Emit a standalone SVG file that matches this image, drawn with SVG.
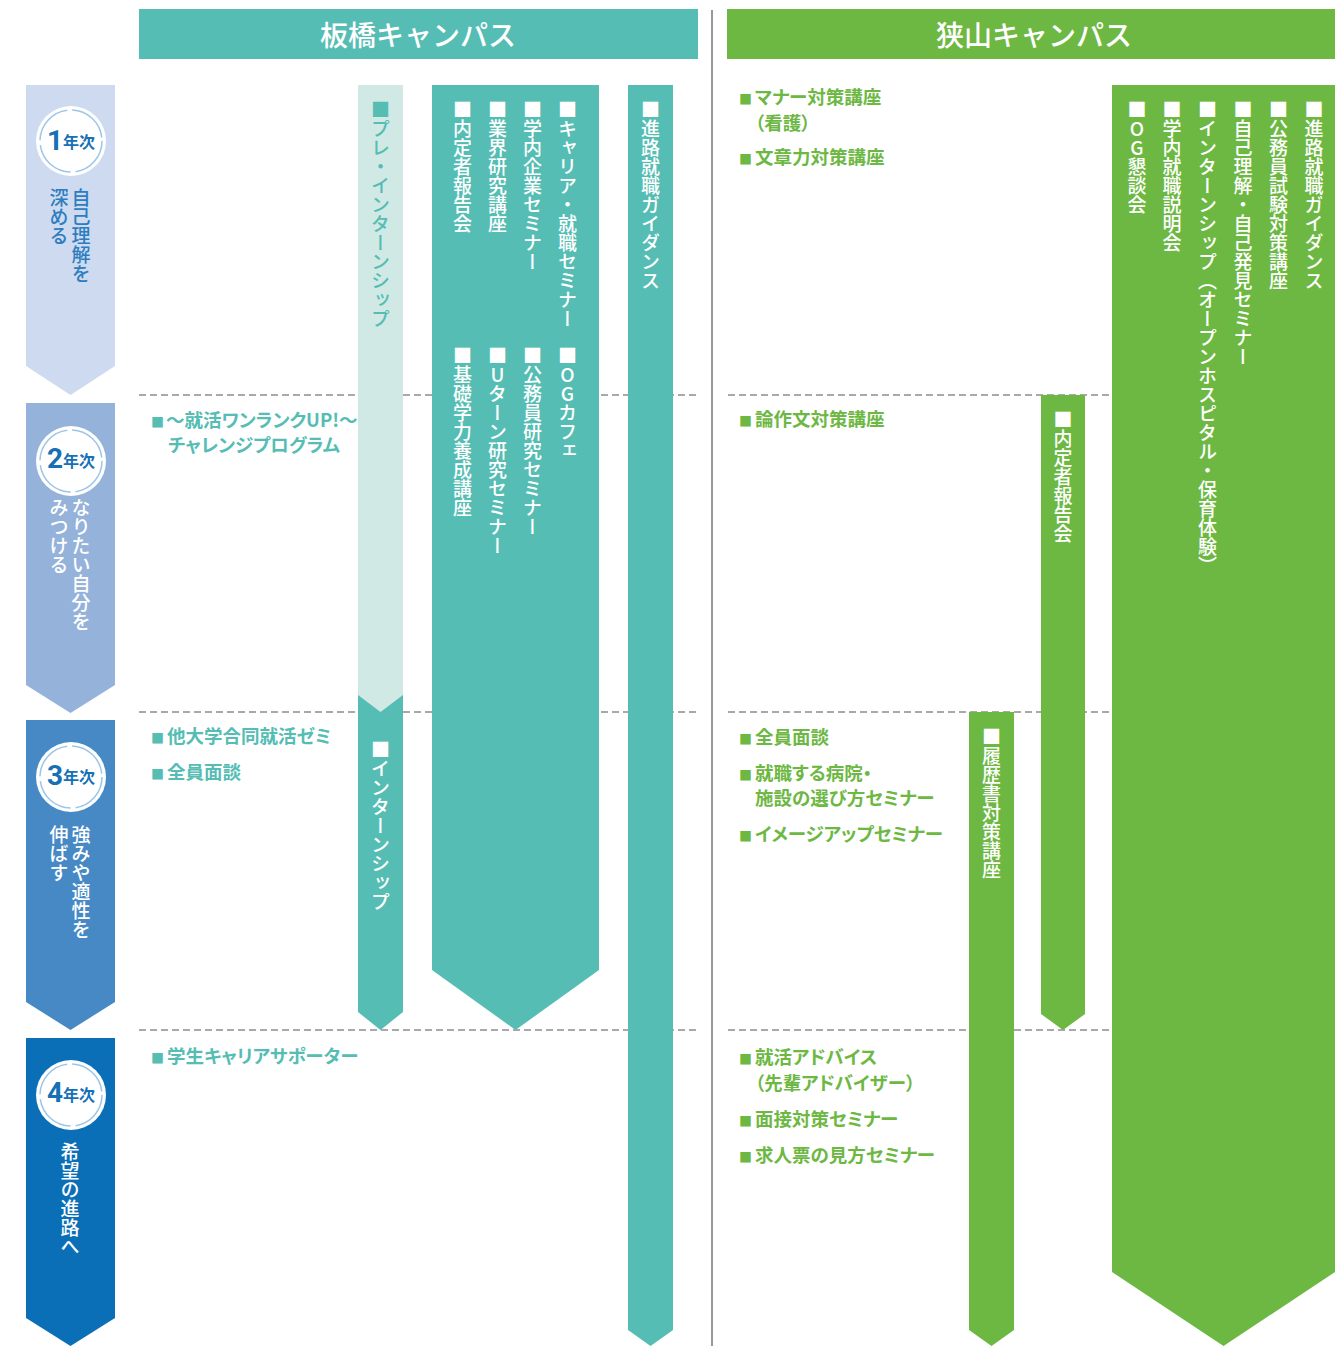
<svg xmlns="http://www.w3.org/2000/svg" width="1335" height="1346" viewBox="0 0 1335 1346">
<style>
text{font-family:"Noto Sans CJK JP","Noto Sans",sans-serif}
.hd{font-size:28px;fill:#fff;font-weight:500;text-anchor:middle}
.v{writing-mode:vertical-rl;text-orientation:upright;font-size:19px;font-weight:500;fill:#fff}
.vy{writing-mode:vertical-rl;text-orientation:upright;font-size:19px;font-weight:500}
.lt{font-size:18.5px;font-weight:700;fill:#55bdb3;font-feature-settings:"palt"}
.lg{font-size:18.5px;font-weight:700;fill:#6db843;font-feature-settings:"palt"}
.sq{font-size:13px}
.num{font-family:"Roboto","Liberation Sans",sans-serif;font-size:28px;font-weight:700;fill:#1670b6}
.nen{font-size:16px;font-weight:700;fill:#1670b6}
.dash{stroke:#555;stroke-width:1.2;stroke-dasharray:7 4;fill:none}
.teal{fill:#55bdb3}
.green{fill:#6db843}
.ring{fill:#fff}
.ring2{fill:none;stroke:#9cc6e8;stroke-width:1.5;stroke-dasharray:44 5}
</style>

<g id="header-itabashi">
<rect x="139" y="9" width="559" height="50" class="teal"/>
<text x="418" y="46" class="hd">板橋キャンパス</text>
</g>
<g id="header-sayama">
<rect x="727" y="9" width="608" height="50" class="green"/>
<text x="1034" y="46" class="hd">狭山キャンパス</text>
</g>

<g id="connectors">
<line x1="712" y1="10" x2="712" y2="1346" stroke="#333" stroke-width="1"/>
<line x1="139" y1="395" x2="698" y2="395" class="dash"/>
<line x1="728" y1="395" x2="1112" y2="395" class="dash"/>
<line x1="139" y1="712" x2="698" y2="712" class="dash"/>
<line x1="728" y1="712" x2="1112" y2="712" class="dash"/>
<line x1="139" y1="1030" x2="698" y2="1030" class="dash"/>
<line x1="728" y1="1030" x2="1112" y2="1030" class="dash"/>
</g>

<g id="year1">
<polygon points="26,85 115,85 115,366 70.5,395 26,366" fill="#cedaef"/>
<circle cx="71" cy="141" r="35" class="ring"/>
<circle cx="71" cy="141" r="31" class="ring2"/>
<text x="47" y="150" class="num">1</text>
<text x="63" y="148" class="nen">年次</text>
<text x="81" y="188" class="vy" fill="#2d7dc0">自己理解を</text>
<text x="59" y="188" class="vy" fill="#2d7dc0">深める</text>
</g>
<g id="year2">
<polygon points="26,403 115,403 115,685 70.5,713 26,685" fill="#95b2da"/>
<circle cx="71" cy="461" r="35" class="ring"/>
<circle cx="71" cy="461" r="31" class="ring2"/>
<text x="47" y="468" class="num">2</text>
<text x="63" y="467" class="nen">年次</text>
<text x="81" y="498" class="vy" fill="#fff">なりたい自分を</text>
<text x="59" y="498" class="vy" fill="#fff">みつける</text>
</g>
<g id="year3">
<polygon points="26,720 115,720 115,1002 70.5,1030 26,1002" fill="#4689c5"/>
<circle cx="71" cy="777" r="35" class="ring"/>
<circle cx="71" cy="777" r="31" class="ring2"/>
<text x="47" y="785" class="num">3</text>
<text x="63" y="783" class="nen">年次</text>
<text x="81" y="825" class="vy" fill="#fff">強みや適性を</text>
<text x="59" y="825" class="vy" fill="#fff">伸ばす</text>
</g>
<g id="year4">
<polygon points="26,1038 115,1038 115,1318 70.5,1346 26,1318" fill="#0b6fb8"/>
<circle cx="71" cy="1095" r="35" class="ring"/>
<circle cx="71" cy="1095" r="31" class="ring2"/>
<text x="47" y="1102" class="num">4</text>
<text x="63" y="1101" class="nen">年次</text>
<text x="70" y="1142" class="vy" fill="#fff">希望の進路へ</text>
</g>

<g id="itabashi-internship">
<polygon points="358,650 403,650 403,1012 380.5,1030 358,1012" class="teal"/>
<text x="380.5" y="740" class="v">■インターンシップ</text>
</g>
<g id="itabashi-pre-internship">
<polygon points="358,85 403,85 403,695 380.5,712 358,695" fill="#d1e9e5"/>
<text x="380.5" y="100" class="v" style="fill:#55bdb3">■プレ・インターンシップ</text>
</g>
<g id="itabashi-seminars">
<polygon points="432,85 599,85 599,970 515.5,1030 432,970" class="teal"/>
<text x="567.5" y="100" class="v">■キャリア・就職セミナー</text>
<text x="532.5" y="100" class="v">■学内企業セミナー</text>
<text x="497.5" y="100" class="v">■業界研究講座</text>
<text x="462.5" y="100" class="v">■内定者報告会</text>
<text x="567.5" y="346" class="v">■OGカフェ</text>
<text x="532.5" y="346" class="v">■公務員研究セミナー</text>
<text x="497.5" y="346" class="v">■Uターン研究セミナー</text>
<text x="462.5" y="346" class="v">■基礎学力養成講座</text>
</g>
<g id="itabashi-guidance">
<polygon points="628,85 673,85 673,1330 650.5,1346 628,1330" class="teal"/>
<text x="650.5" y="100" class="v">■進路就職ガイダンス</text>
</g>

<g id="itabashi-list">
<text x="151" y="427" class="lt"><tspan class="sq">■</tspan><tspan dx="2">～就活ワンランクUP!～</tspan></text>
<text x="168" y="452" class="lt">チャレンジプログラム</text>
<text x="151" y="743" class="lt"><tspan class="sq">■</tspan><tspan dx="3">他大学合同就活ゼミ</tspan></text>
<text x="151" y="779" class="lt"><tspan class="sq">■</tspan><tspan dx="3">全員面談</tspan></text>
<text x="151" y="1063" class="lt"><tspan class="sq">■</tspan><tspan dx="3">学生キャリアサポーター</tspan></text>
</g>

<g id="sayama-main">
<polygon points="1112,85 1335,85 1335,1272 1223.5,1346 1112,1272" class="green"/>
<text x="1314" y="100" class="v">■進路就職ガイダンス</text>
<text x="1278.5" y="100" class="v">■公務員試験対策講座</text>
<text x="1243" y="100" class="v">■自己理解・自己発見セミナー</text>
<text x="1207.5" y="100" class="v">■インターンシップ（オープンホスピタル・保育体験）</text>
<text x="1172" y="100" class="v">■学内就職説明会</text>
<text x="1137" y="100" class="v">■OG懇談会</text>
</g>
<g id="sayama-naitei">
<polygon points="1041,395 1085,395 1085,1014 1063,1030 1041,1014" class="green"/>
<text x="1063" y="410" class="v">■内定者報告会</text>
</g>
<g id="sayama-rirekisho">
<polygon points="969,712 1014,712 1014,1330 991.5,1346 969,1330" class="green"/>
<text x="991.5" y="727" class="v">■履歴書対策講座</text>
</g>

<g id="sayama-list">
<text x="739" y="104" class="lg"><tspan class="sq">■</tspan><tspan dx="3">マナー対策講座</tspan></text>
<text x="755" y="130" class="lg">（看護）</text>
<text x="739" y="164" class="lg"><tspan class="sq">■</tspan><tspan dx="3">文章力対策講座</tspan></text>
<text x="739" y="426" class="lg"><tspan class="sq">■</tspan><tspan dx="3">論作文対策講座</tspan></text>
<text x="739" y="744" class="lg"><tspan class="sq">■</tspan><tspan dx="3">全員面談</tspan></text>
<text x="739" y="780" class="lg"><tspan class="sq">■</tspan><tspan dx="3">就職する病院・</tspan></text>
<text x="755" y="805" class="lg">施設の選び方セミナー</text>
<text x="739" y="841" class="lg"><tspan class="sq">■</tspan><tspan dx="3">イメージアップセミナー</tspan></text>
<text x="739" y="1064" class="lg"><tspan class="sq">■</tspan><tspan dx="3">就活アドバイス</tspan></text>
<text x="755" y="1090" class="lg">（先輩アドバイザー）</text>
<text x="739" y="1126" class="lg"><tspan class="sq">■</tspan><tspan dx="3">面接対策セミナー</tspan></text>
<text x="739" y="1162" class="lg"><tspan class="sq">■</tspan><tspan dx="3">求人票の見方セミナー</tspan></text>
</g>
</svg>
